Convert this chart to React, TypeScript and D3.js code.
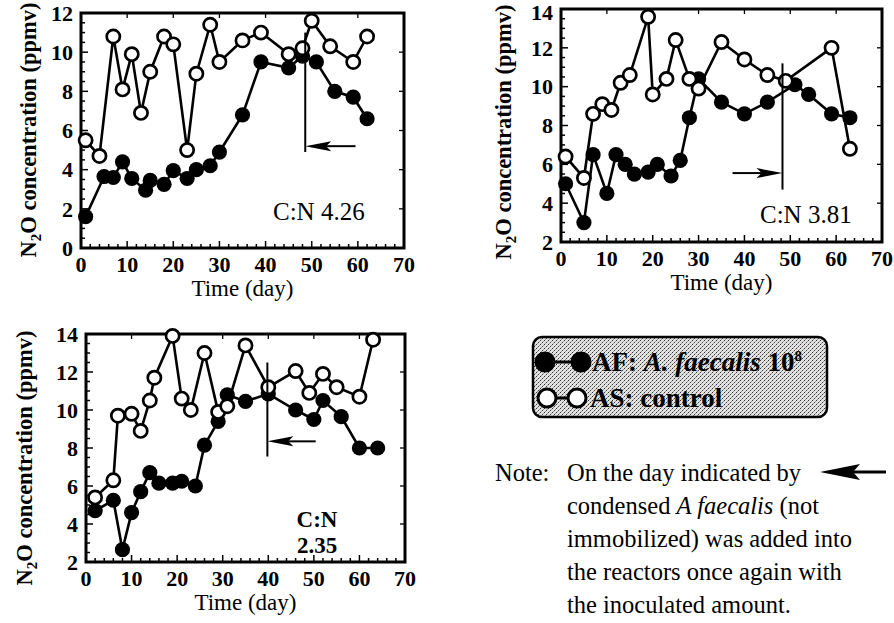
import React from 'react';
import * as d3 from 'd3';

// ---------- data ----------
const xTicks = [0, 10, 20, 30, 40, 50, 60, 70];
const yTicksA = [0, 2, 4, 6, 8, 10, 12];
const yTicksB = [2, 4, 6, 8, 10, 12, 14];

// Panel 1 (C:N 4.26)
const p1AFDays = [1, 5, 7, 9, 11, 14, 15, 18, 20, 23, 25, 28, 30, 35, 39, 45, 48, 51, 55, 59, 62];
const p1AFVals = [1.6, 3.65, 3.6, 4.4, 3.55, 2.95, 3.45, 3.25, 3.95, 3.55, 4.0, 4.2, 4.9, 6.8, 9.5, 9.2, 9.8, 9.5, 8.0, 7.7, 6.6];
const p1ASDays = [1, 4, 7, 9, 11, 13, 15, 18, 20, 23, 25, 28, 30, 35, 39, 45, 48, 50, 54, 59, 62];
const p1ASVals = [5.5, 4.7, 10.8, 8.1, 9.9, 6.9, 9.0, 10.8, 10.4, 5.0, 8.9, 11.4, 9.5, 10.6, 11.0, 9.9, 10.2, 11.6, 10.3, 9.5, 10.8];

// Panel 2 (C:N 3.81)
const p2AFDays = [1, 5, 7, 10, 12, 14, 16, 19, 21, 24, 26, 28, 30, 35, 40, 45, 51, 54, 59, 63];
const p2AFVals = [5.0, 3.0, 6.5, 4.5, 6.5, 6.0, 5.5, 5.6, 6.0, 5.4, 6.2, 8.4, 10.4, 9.2, 8.6, 9.2, 10.1, 9.6, 8.6, 8.4];
const p2ASDays = [1, 5, 7, 9, 11, 13, 15, 19, 20, 23, 25, 28, 30, 35, 40, 45, 49, 59, 63];
const p2ASVals = [6.4, 5.3, 8.6, 9.1, 8.8, 10.2, 10.6, 13.6, 9.6, 10.4, 12.4, 10.4, 9.9, 12.3, 11.4, 10.6, 10.3, 12.0, 6.8];

// Panel 3 (C:N 2.35)
const p3AFDays = [2, 6, 8, 10, 12, 14, 16, 19, 21, 24, 26, 29, 31, 35, 40, 46, 50, 52, 56, 60, 64];
const p3AFVals = [4.7, 5.25, 2.65, 4.6, 5.7, 6.7, 6.15, 6.15, 6.25, 6.0, 8.15, 9.4, 10.8, 10.45, 10.85, 10.0, 9.5, 10.5, 9.65, 8.0, 8.0];
const p3ASDays = [2, 6, 7, 10, 12, 14, 15, 19, 21, 23, 26, 29, 31, 35, 40, 46, 49, 52, 55, 60, 63];
const p3ASVals = [5.4, 6.3, 9.7, 9.8, 8.9, 10.5, 11.7, 13.9, 10.6, 10.0, 13.0, 9.9, 10.2, 13.4, 11.2, 12.05, 10.9, 11.9, 11.2, 10.7, 13.7];

// arrows: [day of vertical line, top value, bottom value, arrow value, tail day]
const p1Arrow = [48.6, 11.0, 4.9, 5.2, 59.5];
const p2Arrow = [48.3, 11.2, 4.7, 5.55, 37.4];
const p3Arrow = [39.8, 12.5, 7.55, 8.35, 50.4];

const noteLines = [
  'On the day indicated by',
  'condensed ',
  'immobilized) was added into',
  'the reactors once again with',
  'the inoculated amount.',
];

const FONT = '"Liberation Serif", "Times New Roman", serif';

function zip(d: number[], v: number[]) {
  return d.map((x, i) => [x, v[i]] as [number, number]);
}

type PanelProps = {
  x0: number; x1: number; yTop: number; yBot: number;
  yDomain: [number, number]; yTicks: number[];
  af: [number, number][]; as: [number, number][];
  arrow: number[];
  titleX: number; titleY: number;
  children?: React.ReactNode;
};

function Panel(p: PanelProps) {
  const x = d3.scaleLinear().domain([0, 70]).range([p.x0, p.x1]);
  const y = d3.scaleLinear().domain(p.yDomain).range([p.yBot, p.yTop]);
  const line = d3.line<[number, number]>().x(d => x(d[0])).y(d => y(d[1]));
  const xMinor = d3.range(0, 70.01, 2);
  const yMinor = d3.range(p.yDomain[0], p.yDomain[1] + 0.01, 0.5);

  const [ad, at, ab, av, atail] = p.arrow;
  const vx = x(ad);
  const ay = y(av);
  const tailX = x(atail);
  const dir = tailX > vx ? 1 : -1;
  const headLen = 26, headHalf = 5;

  return (
    <g>
      {xMinor.map(t => (
        <line key={'xm' + t} x1={x(t)} x2={x(t)} y1={p.yBot} y2={p.yBot - (t % 10 === 0 ? 7 : 4)} stroke="#000" strokeWidth={1.5} />
      ))}
      {xTicks.map(t => (
        <line key={'xt' + t} x1={x(t)} x2={x(t)} y1={p.yTop} y2={p.yTop + 5} stroke="#000" strokeWidth={1.3} />
      ))}
      {yMinor.map(t => (
        <line key={'ym' + t} x1={p.x0} x2={p.x0 + (Math.abs(t % 2) < 1e-6 ? 7 : 4)} y1={y(t)} y2={y(t)} stroke="#000" strokeWidth={1.5} />
      ))}
      {p.yTicks.map(t => (
        <line key={'yr' + t} x1={p.x1} x2={p.x1 - 5} y1={y(t)} y2={y(t)} stroke="#000" strokeWidth={1.3} />
      ))}
      <rect x={p.x0} y={p.yTop} width={p.x1 - p.x0} height={p.yBot - p.yTop} fill="none" stroke="#000" strokeWidth={3} />

      {xTicks.map(t => (
        <text key={'xl' + t} x={x(t)} y={p.yBot + 24} textAnchor="middle" fontFamily={FONT} fontWeight="bold" fontSize={22}>{t}</text>
      ))}
      {p.yTicks.map(t => (
        <text key={'yl' + t} x={p.x0 - 8} y={Math.max(y(t), 12)} dy="0.35em" textAnchor="end" fontFamily={FONT} fontWeight="bold" fontSize={22}>{t}</text>
      ))}
      <text x={(p.x0 + p.x1) / 2} y={p.yBot + 48} textAnchor="middle" fontFamily={FONT} fontSize={23}>Time (day)</text>
      <text transform={`translate(${p.titleX},${p.titleY}) rotate(-90)`} textAnchor="middle" dy="0.35em" fontFamily={FONT} fontWeight="bold" fontSize={22.5}>
        N<tspan fontSize={15} dy={5}>2</tspan><tspan dy={-5}>O concentration (ppmv)</tspan>
      </text>

      <path d={line(p.af) || ''} fill="none" stroke="#000" strokeWidth={2.6} />
      {p.af.map((d, i) => (
        <circle key={'af' + i} cx={x(d[0])} cy={y(d[1])} r={7.6} fill="#000" />
      ))}
      <path d={line(p.as) || ''} fill="none" stroke="#000" strokeWidth={2.6} />
      {p.as.map((d, i) => (
        <circle key={'as' + i} cx={x(d[0])} cy={y(d[1])} r={6.6} fill="#fff" stroke="#000" strokeWidth={2.7} />
      ))}

      <line x1={vx} x2={vx} y1={y(at)} y2={y(ab)} stroke="#000" strokeWidth={2} />
      <line x1={vx + dir * headLen * 0.8} x2={tailX} y1={ay} y2={ay} stroke="#000" strokeWidth={2} />
      <path d={`M${vx},${ay} L${vx + dir * headLen},${ay - headHalf} L${vx + dir * headLen * 0.8},${ay} L${vx + dir * headLen},${ay + headHalf} Z`} fill="#000" />
      {p.children}
    </g>
  );
}

export default function App() {
  return (
    <svg width={894} height={623} style={{ position: 'absolute', left: 0, top: 0, background: '#fff' }}>
      <defs>
        <pattern id="stip" width={4} height={4} patternUnits="userSpaceOnUse">
          <rect width={4} height={4} fill="#e2e2e2" />
          <rect x={0} y={0} width={1} height={1} fill="#333" />
          <rect x={2} y={2} width={1} height={1} fill="#444" />
          <rect x={1} y={3} width={1} height={1} fill="#999" />
          <rect x={3} y={1} width={1} height={1} fill="#999" />
        </pattern>
      </defs>
      <rect width={894} height={623} fill="#fff" />

      <Panel x0={81} x1={404} yTop={13} yBot={248} yDomain={[0, 12]} yTicks={yTicksA}
        af={zip(p1AFDays, p1AFVals)} as={zip(p1ASDays, p1ASVals)} arrow={p1Arrow} titleX={28} titleY={130}>
        <text x={273} y={220} fontFamily={FONT} fontSize={25}>C:N 4.26</text>
      </Panel>
      <Panel x0={561} x1={882} yTop={9} yBot={242} yDomain={[2, 14]} yTicks={yTicksB}
        af={zip(p2AFDays, p2AFVals)} as={zip(p2ASDays, p2ASVals)} arrow={p2Arrow} titleX={503} titleY={132}>
        <text x={760} y={223} fontFamily={FONT} fontSize={25}>C:N 3.81</text>
      </Panel>
      <Panel x0={86} x1={405} yTop={334} yBot={562} yDomain={[2, 14]} yTicks={yTicksB}
        af={zip(p3AFDays, p3AFVals)} as={zip(p3ASDays, p3ASVals)} arrow={p3Arrow} titleX={24} titleY={458}>
        <text x={317} y={527} textAnchor="middle" fontFamily={FONT} fontWeight="bold" fontSize={23}>C:N</text>
        <text x={317} y={553} textAnchor="middle" fontFamily={FONT} fontWeight="bold" fontSize={23}>2.35</text>
      </Panel>

      <rect x={533} y={337} width={294} height={80} rx={9} fill="url(#stip)" stroke="#000" strokeWidth={2.5} />
      <line x1={545} x2={581} y1={362} y2={362} stroke="#000" strokeWidth={3} />
      <circle cx={545} cy={362} r={10.5} fill="#000" />
      <circle cx={581} cy={362} r={10.5} fill="#000" />
      <line x1={547} x2={577} y1={398} y2={398} stroke="#000" strokeWidth={3} />
      <circle cx={547} cy={398} r={9} fill="#fff" stroke="#000" strokeWidth={3} />
      <circle cx={577} cy={398} r={9} fill="#fff" stroke="#000" strokeWidth={3} />
      <text x={592} y={371} fontFamily={FONT} fontWeight="bold" fontSize={27}>
        AF: <tspan fontStyle="italic">A. faecalis</tspan> 10<tspan fontSize={15} dy={-10}>8</tspan>
      </text>
      <text x={590} y={407} fontFamily={FONT} fontWeight="bold" fontSize={27}>AS: control</text>

      <text x={495} y={481} fontFamily={FONT} fontSize={24.5}>Note:</text>
      <text x={567} y={481} fontFamily={FONT} fontSize={24.5}>{noteLines[0]}</text>
      <text x={567} y={514} fontFamily={FONT} fontSize={24.5}>
        {noteLines[1]}<tspan fontStyle="italic">A faecalis</tspan> (not
      </text>
      <text x={567} y={547} fontFamily={FONT} fontSize={24.5}>{noteLines[2]}</text>
      <text x={567} y={580} fontFamily={FONT} fontSize={24.5}>{noteLines[3]}</text>
      <text x={567} y={613} fontFamily={FONT} fontSize={24.5}>{noteLines[4]}</text>
      <line x1={848} x2={886} y1={472} y2={472} stroke="#000" strokeWidth={3} />
      <path d="M820,472 L860,464 L853,472 L860,480 Z" fill="#000" />
    </svg>
  );
}
